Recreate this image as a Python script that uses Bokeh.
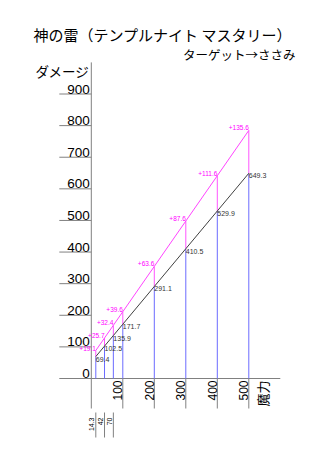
import math
from bokeh.plotting import figure
from bokeh.models import Range1d, ColumnDataSource, Label
from bokeh.embed import file_html
from bokeh.resources import INLINE
from bokeh.core.properties import value

# ---- data ----
magic = [14.3, 42, 70, 100, 200, 300, 400, 500]
damage = [69.4, 102.5, 135.9, 171.7, 291.1, 410.5, 529.9, 649.3]
bonus = [19.1, 25.7, 32.4, 39.6, 63.6, 87.6, 111.6, 135.6]
y_ticks = [0, 100, 200, 300, 400, 500, 600, 700, 800, 900]
x_ticks = [100, 200, 300, 400, 500]
small_ticks = [14.3, 42, 70]
small_labels = ["14.3", "42", "70"]
title_text = "神の雷（テンプルナイト マスタリー）"
subtitle_text = "ターゲット→ささみ"
y_label = "ダメージ"
x_label = "魔力"
y_max = 1000
x_max = 600

# ---- layout helpers ----
W, H = 330, 450
X0, SX = 90.8, 0.315     # pixel of x=0, px per unit
Y0, SY = 378.0, 0.3161   # pixel of y=0, px per unit


def px2x(px):
    return (px - X0) / SX


def px2y(py):
    return (Y0 - py) / SY


def dx(n):
    return n / SX


def dy(n):
    return n / SY


JP = "Noto Sans CJK JP"
NUM = "Liberation Sans"
GRAY = "#808080"

p = figure(width=W, height=H,
           x_range=Range1d(px2x(0), px2x(W)),
           y_range=Range1d(px2y(H), px2y(0)),
           output_backend="svg", toolbar_location=None, min_border=0)
p.axis.visible = False
p.grid.visible = False
p.outline_line_color = None
p.background_fill_color = "white"
p.border_fill_color = "white"

pink = [d + b for d, b in zip(damage, bonus)]
src = ColumnDataSource(dict(
    x=magic, d=damage, pk=pink, zero=[0] * len(magic),
    dlab=[f"{v:.1f}" for v in damage],
    blab=[f"+{v:.1f}" for v in bonus],
))

# axes
p.segment(x0=[0], y0=[-dy(30)], x1=[0], y1=[y_max], line_color=GRAY, line_width=1)
p.segment(x0=[0], y0=[0], x1=[x_max], y1=[0], line_color=GRAY, line_width=1)
# y tick lines + labels
p.segment(x0=[-dx(32)] * len(y_ticks), y0=y_ticks, x1=[0] * len(y_ticks), y1=y_ticks,
          line_color=GRAY, line_width=1)
p.text(x=[-dx(1.5)] * len(y_ticks), y=[v + dy(0.5) for v in y_ticks],
       text=[str(v) for v in y_ticks], text_align="right", text_baseline="bottom",
       text_font=value(NUM), text_font_size="13.5px", text_color="#000000")
# x tick lines + labels
p.segment(x0=x_ticks, y0=[0] * len(x_ticks), x1=x_ticks, y1=[-dy(30)] * len(x_ticks),
          line_color=GRAY, line_width=1)
p.text(x=[v - dx(0.5) for v in x_ticks], y=[-dy(2)] * len(x_ticks),
       text=[str(v) for v in x_ticks], angle=math.pi / 2, text_align="right",
       text_baseline="bottom", text_font=value(NUM), text_font_size="12px",
       text_color="#000000")
# small ticks for first points
p.segment(x0=small_ticks, y0=[-dy(34)] * len(small_ticks), x1=small_ticks,
          y1=[-dy(59)] * len(small_ticks), line_color=GRAY, line_width=1)
p.text(x=[v - dx(1.5) for v in small_ticks], y=[-dy(39)] * len(small_ticks),
       text=small_labels, angle=math.pi / 2, text_align="right",
       text_baseline="bottom", text_font=value(NUM), text_font_size="7px",
       text_color="#000000")

# data marks
p.segment(x0="x", y0="zero", x1="x", y1="d", source=src, line_color="#6b6bff", line_width=1)
p.segment(x0="x", y0="d", x1="x", y1="pk", source=src, line_color="#ff55ff", line_width=1)
p.line(x="x", y="d", source=src, line_color="#404040", line_width=1)
p.line(x="x", y="pk", source=src, line_color="#ff44ff", line_width=1)
p.text(x="x", y="d", text="dlab", source=src, text_align="left", text_baseline="top",
       text_font=value(NUM), text_font_size="7px", text_color="#333333")
p.text(x="x", y="pk", text="blab", source=src, text_align="right", text_baseline="bottom",
       text_font=value(NUM), text_font_size="6.5px", text_color="#ff00ff")

# titles and axis names
p.add_layout(Label(x=px2x(33), y=px2y(34), text=title_text, text_font=JP,
                   text_font_size="15px", text_baseline="middle", text_align="left",
                   text_color="#000000"))
p.add_layout(Label(x=px2x(295), y=px2y(54), text=subtitle_text, text_font=JP,
                   text_font_size="12.5px", text_baseline="middle", text_align="right",
                   text_color="#000000"))
p.add_layout(Label(x=px2x(89), y=px2y(70), text=y_label, text_font=JP,
                   text_font_size="13.5px", text_baseline="middle", text_align="right",
                   text_color="#000000"))
p.add_layout(Label(x=px2x(271), y=px2y(380), text=x_label, text_font=JP,
                   text_font_size="13px", angle=math.pi / 2, text_baseline="bottom",
                   text_align="right", text_color="#000000"))

open("out.html", "w").write(file_html(p, INLINE))
